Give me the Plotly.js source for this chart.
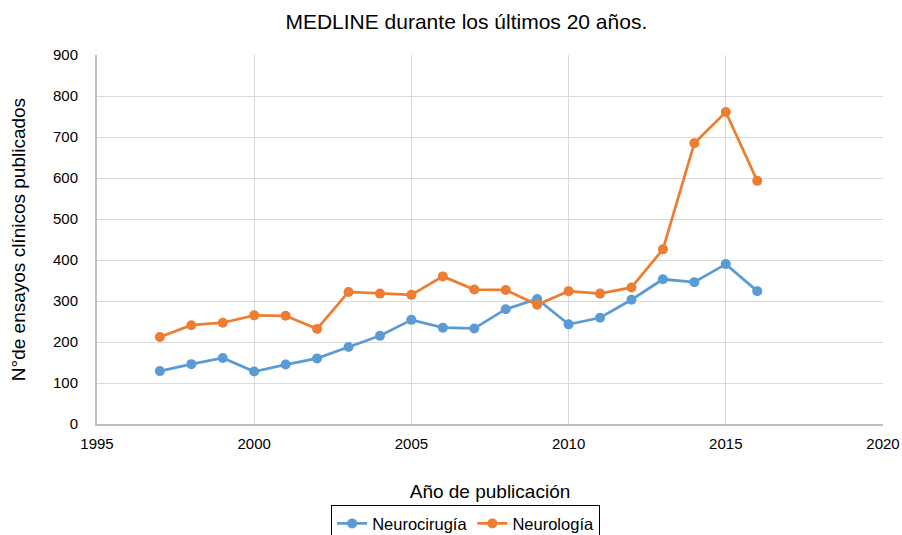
<!DOCTYPE html>
<html>
<head>
<meta charset="utf-8">
<script src="https://cdn.plot.ly/plotly-3.0.1.min.js"></script>
<style>html,body{margin:0;padding:0;background:#fff;}#chart{width:902px;height:535px;}</style>
</head>
<body>
<div id="chart"></div>
<script>
const years = [1997,1998,1999,2000,2001,2002,2003,2004,2005,2006,2007,2008,2009,2010,2011,2012,2013,2014,2015,2016];
const neurocirugia = [129,146,161,128,145,160,188,215,254,235,233,280,305,243,259,303,353,346,390,324];
const neurologia = [212,241,247,265,264,232,322,318,315,360,328,327,291,324,318,333,426,685,761,593];
const xTicks = [1995,2000,2005,2010,2015,2020];
const yTicks = [0,100,200,300,400,500,600,700,800,900];

const font = "Liberation Sans, Arial, Helvetica, sans-serif";
const traces = [
  {x: years, y: neurocirugia, name: "Neurocirugía", type: "scatter", mode: "lines+markers",
   line: {color: "#5B9BD5", width: 2.75}, marker: {color: "#5B9BD5", size: 10}},
  {x: years, y: neurologia, name: "Neurología", type: "scatter", mode: "lines+markers",
   line: {color: "#ED7D31", width: 2.75}, marker: {color: "#ED7D31", size: 10}}
];
const layout = {
  width: 902, height: 535,
  margin: {l: 97, r: 19, t: 55, b: 111, autoexpand: false},
  paper_bgcolor: "#fff", plot_bgcolor: "#fff",
  font: {family: font, color: "#000", size: 14},
  title: {text: "MEDLINE durante los últimos 20 años.", x: 0.517, xanchor: "center", y: 0.959, yanchor: "middle",
          font: {size: 21, family: font, color: "#000"}},
  xaxis: {range: [1995, 2020], tickvals: xTicks, ticktext: xTicks.map(String),
          showgrid: true, gridcolor: "#d9d9d9", gridwidth: 1,
          showline: true, linecolor: "#bfbfbf", linewidth: 2, zeroline: false,
          ticks: "", tickfont: {size: 15}, ticklabelstandoff: 5,
          title: {text: "Año de publicación", font: {size: 19}, standoff: 34}},
  yaxis: {range: [0, 900], tickvals: yTicks, showgrid: true, gridcolor: "#d9d9d9", gridwidth: 1,
          showline: true, linecolor: "#bfbfbf", linewidth: 2, zeroline: false,
          ticks: "", tickfont: {size: 15}, ticklabelstandoff: 14,
          title: {text: "N°de ensayos clínicos publicados", font: {size: 19}, standoff: 22}},
  showlegend: true,
  legend: {orientation: "h", x: 0.469, xanchor: "center", y: -0.22, yanchor: "top",
           bordercolor: "#000", borderwidth: 1, bgcolor: "#fff", font: {size: 16.5},
           itemwidth: 30, tracegroupgap: 0}
};
Plotly.newPlot("chart", traces, layout, {displayModeBar: false, staticPlot: true});
</script>
</body>
</html>
